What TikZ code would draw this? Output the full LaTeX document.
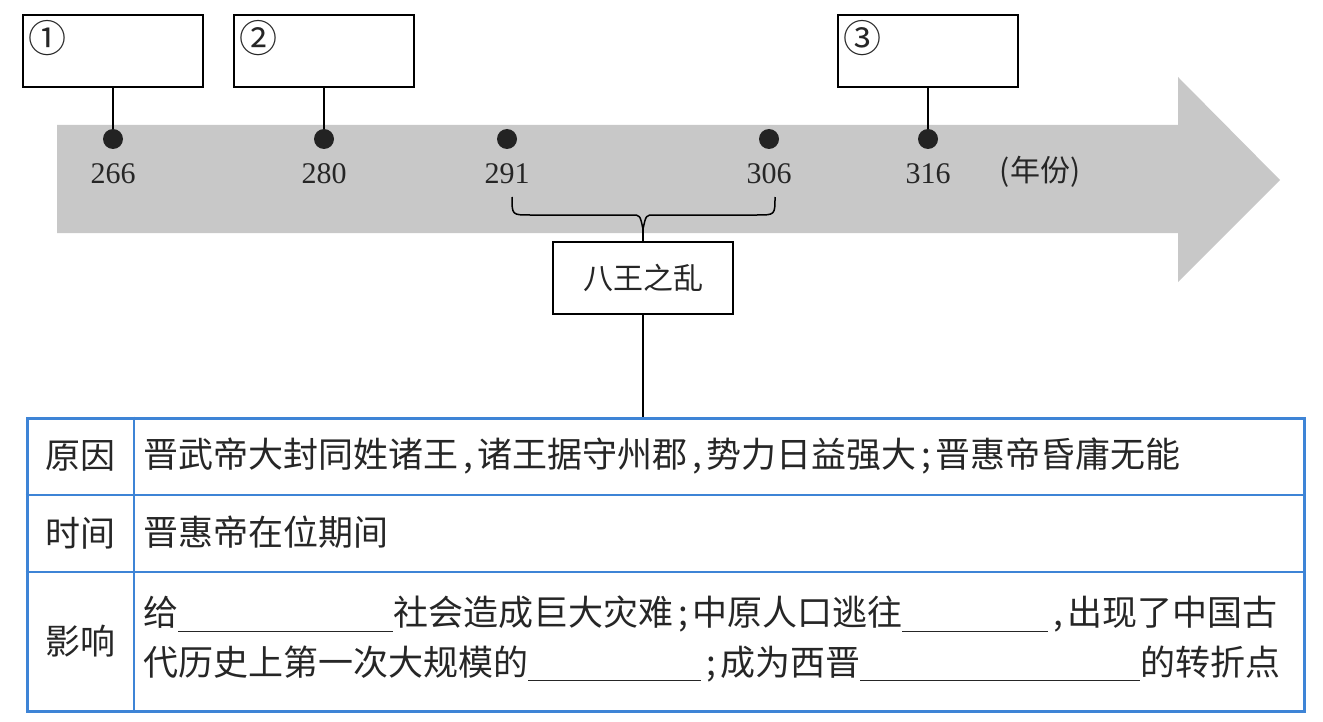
\documentclass[tikz,border=0pt]{standalone}
\usepackage{fontspec}
\setmainfont{Liberation Serif}
\newfontfamily\cjk{Noto Sans CJK SC}
\usetikzlibrary{positioning,calc}
\definecolor{band}{RGB}{200,200,200}
\definecolor{tblue}{RGB}{62,132,214}
\definecolor{dotc}{RGB}{35,35,35}
\newcommand{\blank}[1]{\rule[-3pt]{#1}{0.5pt}}
\newcommand{\pn}[1]{\makebox[9.5pt]{#1}}

\begin{document}
\begin{tikzpicture}[x=0.5pt,y=-0.5pt,
  slot/.style={draw,line width=0.75pt,minimum width=90pt,minimum height=36pt,inner sep=0pt},
  dot/.style={circle,fill=dotc,minimum size=10pt,inner sep=0pt},
  yr/.style={font=\fontsize{15}{15}\selectfont,inner sep=0pt,text=black!85},
  num/.style={font=\cjk\fontsize{19}{19}\selectfont,inner sep=0pt,text=black!85},
  link/.style={line width=0.75pt},
  grid/.style={tblue,line width=0.7pt},
  head/.style={font=\cjk\fontsize{17.5}{17.5}\selectfont,inner sep=0pt,text=black!85},
  cell/.style={head,anchor=west}]
\useasboundingbox (0,0) rectangle (1323,722);
\fill[band] (57,125) -- (1178,125) -- (1178,77) -- (1280,180) -- (1178,282)
  -- (1178,233) -- (57,233) -- cycle;

\node[slot] (b1) at (113,51) {};
\node[slot] (b2) at (324,51) {};
\node[slot] (b3) at (928,51) {};
\node[num] (n1) at ($(b1.north west)+(25,24)$) {①};
\node[num] (n2) at ($(b2.north west)+(25,24)$) {②};
\node[num] (n3) at ($(b3.north west)+(25,24)$) {③};

\node[dot] (d266) at (113,139) {};
\node[dot] (d280) at (324,139) {};
\node[dot] (d291) at (507,139) {};
\node[dot] (d306) at (769,139) {};
\node[dot] (d316) at (928,139) {};
\foreach \y in {266,280,291,306,316}
  \node[yr,below=7pt of d\y] (y\y) {\y};
\node[yr,font=\cjk\fontsize{15}{15}\selectfont] (unit) at (1040,172) {(年份)};

\draw[link] (b1) -- (d266);
\draw[link] (b2) -- (d280);
\draw[link] (b3) -- (d316);

\coordinate (bt) at (643,229);
\draw[link] (512,197) .. controls (512,215) .. (530,215) -- (632,215)
  .. controls (640,215) .. (bt) .. controls (646,215) .. (654,215)
  -- (757,215) .. controls (775,215) .. (775,197);
\node[slot,font=\cjk\fontsize{15}{15}\selectfont,text=black!85] (war) at (643,278) {八王之乱};
\draw[link] (bt) -- (war);

\node[draw=tblue,line width=1.5pt,minimum width=638.5pt,minimum height=146.5pt,
  inner sep=0pt] (tbl) at (665.5,564.5) {};
\draw[link] (war) -- (war |- tbl.north);
\draw[grid] (tbl.west |- 0,495) -- (tbl.east |- 0,495);
\draw[grid] (tbl.west |- 0,572) -- (tbl.east |- 0,572);
\draw[grid] (tbl.north -| 134,0) -- (tbl.south -| 134,0);

\node[head] (h1) at (80.5,456) {原因};
\node[head] (h2) at (80.5,533) {时间};
\node[head] (h3) at (80.5,641) {影响};
\node[cell] (r1) at (143,456) {晋武帝大封同姓诸王\pn{,}诸王据守州郡\pn{,}势力日益强大\pn{;}晋惠帝昏庸无能};
\node[cell] (r2) at (143,532) {晋惠帝在位期间};
\node[cell] (r3a) at (143,614) {给\blank{107.5pt}社会造成巨大灾难\pn{;}中原人口逃往\blank{73pt}\pn{,}出现了中国古};
\node[cell] (r3b) at (143,664) {代历史上第一次大规模的\blank{86.5pt}\pn{;}成为西晋\blank{140pt}的转折点};
\end{tikzpicture}
\end{document}
